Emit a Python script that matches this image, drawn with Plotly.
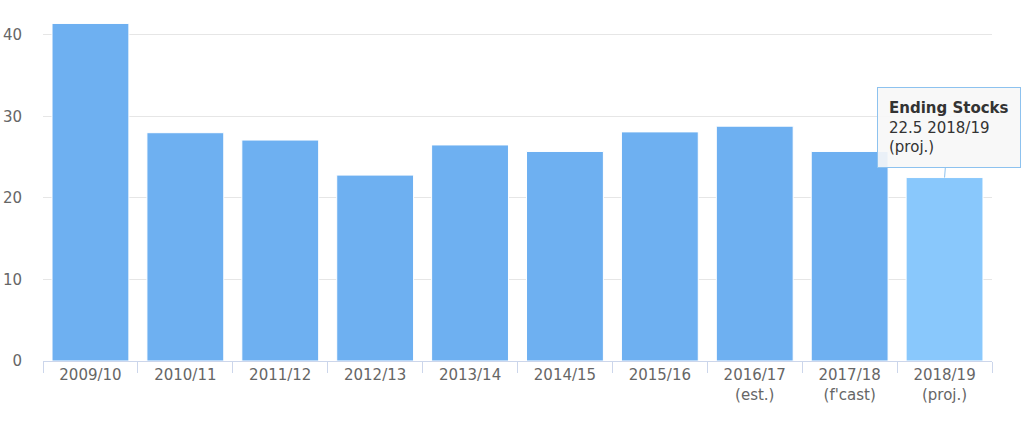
import plotly.graph_objects as go

categories = ["2009/10", "2010/11", "2011/12", "2012/13", "2013/14",
              "2014/15", "2015/16", "2016/17", "2017/18", "2018/19"]
tick_labels = ["2009/10", "2010/11", "2011/12", "2012/13", "2013/14",
               "2014/15", "2015/16", "2016/17<br>(est.)", "2017/18<br>(f'cast)",
               "2018/19<br>(proj.)"]
values = [41.4, 28.0, 27.1, 22.8, 26.5, 25.7, 28.1, 28.8, 25.7, 22.5]
series_name = "Ending Stocks"
y_ticks = [0, 10, 20, 30, 40]

base_color = "#6EB0F1"
hover_color = "#89C8FC"
colors = [base_color] * (len(values) - 1) + [hover_color]

fig = go.Figure()
fig.add_trace(go.Bar(
    x=categories, y=values, name=series_name,
    marker=dict(color=colors, line=dict(color="white", width=1)),
    hoverinfo="skip",
))

hi = len(values) - 1
fig.add_annotation(
    x=categories[hi], y=values[hi], xref="x", yref="y",
    text="<b>%s</b><br>%s %s<br>(proj.)" % (series_name, values[hi], categories[hi]),
    align="left", showarrow=True, arrowhead=0, arrowwidth=1,
    arrowcolor="#8DC2EF", ax=4, ay=-50,
    bgcolor="rgba(247,247,247,0.9)", bordercolor="#8DC2EF", borderwidth=1,
    borderpad=11,
    font=dict(family="DejaVu Sans", size=15, color="#333333"),
)

fig.update_layout(
    width=1024, height=430,
    margin=dict(l=43, r=32, t=10, b=69, autoexpand=False),
    paper_bgcolor="white", plot_bgcolor="white",
    bargap=0.19, showlegend=False,
    font=dict(family="DejaVu Sans", size=15, color="#666666"),
)
fig.update_xaxes(
    type="category", tickmode="array", tickvals=categories, ticktext=tick_labels,
    range=[-0.5, len(categories) - 0.5],
    showline=True, linecolor="#CCD6EB", linewidth=1, automargin=False,
    ticks="outside", tickson="boundaries", ticklen=11, tickcolor="#CCD6EB",
    showgrid=False, tickfont=dict(size=15, color="#666666"),
)
fig.update_yaxes(
    range=[0, 43.05], tickvals=y_ticks, showgrid=True, gridcolor="#E6E6E6",
    zeroline=False, showline=False, ticks="", ticklabelstandoff=20,
    automargin=False, tickfont=dict(size=15, color="#666666"),
)

fig.write_html(
    "out.html",
    config={"displayModeBar": False},
    post_script="document.body.style.margin='0';document.body.style.overflow='hidden';",
)
